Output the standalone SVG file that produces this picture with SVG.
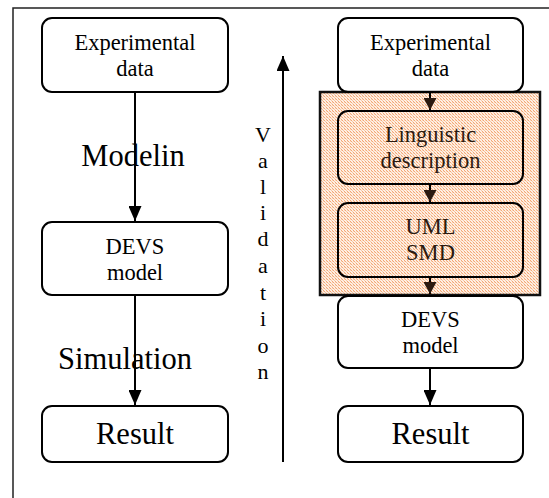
<svg xmlns="http://www.w3.org/2000/svg" width="549" height="498" viewBox="0 0 549 498">
<style>
.box{fill:none;stroke:#000;stroke-width:2}
.t{font-family:"Liberation Serif","Times New Roman",serif;font-size:22.5px;fill:#000;text-anchor:middle}
.big{font-family:"Liberation Serif","Times New Roman",serif;font-size:30.5px;fill:#000;text-anchor:middle}
.v{font-family:"Liberation Serif","Times New Roman",serif;font-size:22px;fill:#000;text-anchor:middle}
.c{stroke:#000;stroke-width:2;fill:none}
.in{fill:#2b1a10}
</style>
<defs>
<pattern id="dots" width="3" height="3" patternUnits="userSpaceOnUse">
<rect width="3" height="3" fill="#fef0e4"/>
<rect x="0" y="0" width="1" height="1" fill="#f4a674"/>
<rect x="1" y="1" width="1" height="1" fill="#f8c6a2"/>
<rect x="2" y="2" width="1" height="1" fill="#f4a674"/>
<rect x="2" y="0" width="1" height="1" fill="#fad8be"/>
</pattern>
<marker id="ah" viewBox="0 0 15 13" refX="15" refY="6.5" markerWidth="15" markerHeight="13" markerUnits="userSpaceOnUse" orient="auto">
<path d="M0,0 L15,6.5 L0,13 Z" fill="#000"/>
</marker>
<marker id="ahs" viewBox="0 0 12 13" refX="12" refY="6.5" markerWidth="12" markerHeight="13" markerUnits="userSpaceOnUse" orient="auto">
<path d="M0,0 L12,6.5 L0,13 Z" fill="#2b1a10"/>
</marker>
</defs>
<rect width="549" height="498" fill="#fff"/>
<g id="frame">
<path d="M13,498 V8 H549" fill="none" stroke="#222" stroke-width="1.5"/>
</g>
<g id="highlight">
<rect x="320" y="92" width="220" height="203" fill="url(#dots)" stroke="#111" stroke-width="2.5"/>
</g>
<g id="connectors">
<line class="c" x1="135" y1="92" x2="135" y2="221" marker-end="url(#ah)"/>
<line class="c" x1="135" y1="295" x2="135" y2="405" marker-end="url(#ah)"/>
<line class="c" x1="283" y1="462" x2="283" y2="56" marker-end="url(#ah)"/>
<line class="c" x1="430" y1="92" x2="430" y2="110" stroke="#2b1a10" marker-end="url(#ahs)"/>
<line class="c" x1="430" y1="184" x2="430" y2="202" stroke="#2b1a10" marker-end="url(#ahs)"/>
<line class="c" x1="430" y1="277" x2="430" y2="294" stroke="#2b1a10" marker-end="url(#ahs)"/>
<line class="c" x1="430" y1="368" x2="430" y2="405" marker-end="url(#ah)"/>
</g>
<g id="left-exp">
<rect class="box" x="42" y="18" width="186" height="74" rx="10" fill="#fff"/>
<text class="t" x="135" y="50">Experimental</text>
<text class="t" x="135" y="76">data</text>
</g>
<g id="left-devs">
<rect class="box" x="42" y="222" width="186" height="73" rx="10"/>
<text class="t" x="135" y="254">DEVS</text>
<text class="t" x="135" y="280">model</text>
</g>
<g id="left-result">
<rect class="box" x="42" y="406" width="186" height="56" rx="10"/>
<text class="big" x="135" y="444">Result</text>
</g>
<g id="labels">
<text class="big" x="133" y="166">Modelin</text>
<text class="big" x="125" y="369">Simulation</text>
<text class="v" x="263" y="142">V</text>
<text class="v" x="263" y="168">a</text>
<text class="v" x="263" y="194">l</text>
<text class="v" x="263" y="220">i</text>
<text class="v" x="263" y="246">d</text>
<text class="v" x="263" y="273">a</text>
<text class="v" x="263" y="300">t</text>
<text class="v" x="263" y="326">i</text>
<text class="v" x="263" y="353">o</text>
<text class="v" x="263" y="379">n</text>
</g>
<g id="right-exp">
<rect class="box" x="338" y="18" width="185" height="74" rx="10" fill="#fff"/>
<text class="t" x="430.5" y="50">Experimental</text>
<text class="t" x="430.5" y="76">data</text>
</g>
<g id="right-ling">
<rect class="box" x="338" y="111" width="185" height="73" rx="10" stroke="#2b1a10"/>
<text class="t in" x="430.5" y="142">Linguistic</text>
<text class="t in" x="430.5" y="168">description</text>
</g>
<g id="right-uml">
<rect class="box" x="338" y="203" width="185" height="74" rx="10" stroke="#2b1a10"/>
<text class="t in" x="430.5" y="234">UML</text>
<text class="t in" x="430.5" y="260">SMD</text>
</g>
<g id="right-devs">
<rect class="box" x="338" y="296" width="185" height="72" rx="10" fill="#fff"/>
<text class="t" x="430.5" y="327">DEVS</text>
<text class="t" x="430.5" y="353">model</text>
</g>
<g id="right-result">
<rect class="box" x="338" y="406" width="185" height="56" rx="10"/>
<text class="big" x="430.5" y="444">Result</text>
</g>
</svg>
